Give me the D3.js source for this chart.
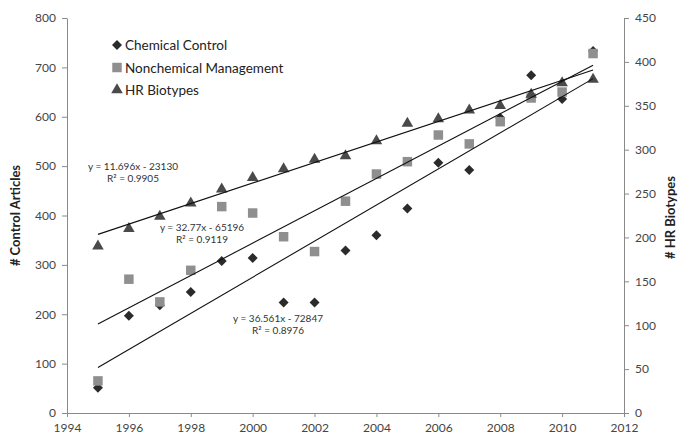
<!DOCTYPE html>
<html>
<head>
<meta charset="utf-8">
<script src="https://cdn.jsdelivr.net/npm/d3@7"></script>
<style>
  body { margin: 0; background: #fff; }
  svg { display: block; font-family: Lato, "Open Sans", sans-serif; }
</style>
</head>
<body>
<svg id="chart" width="683" height="435"></svg>
<script>
// Data
const years = [1995, 1996, 1997, 1998, 1999, 2000, 2001, 2002, 2003, 2004,
  2005, 2006, 2007, 2008, 2009, 2010, 2011];
const chemicalControl = [51, 197, 218, 245, 308, 314, 224, 224, 329, 360,
  414, 507, 492, 598, 684, 636, 733];
const nonchemicalMgmt = [65, 271, 225, 289, 418, 405, 357, 327, 429, 484,
  509, 563, 545, 590, 638, 650, 728];
const hrBiotypes = [190, 210, 224, 239, 255, 268, 278, 289, 293, 310,
  330, 335, 345, 350, 363, 376, 380];

const seriesNames = ['Chemical Control', 'Nonchemical Management', 'HR Biotypes'];

// Trend line equations as printed on the chart
const trendSlopes = [36.561, 32.77, 11.696];
const trendIntercepts = [-72847, -65196, -23130];
const trendLabels = ['y = 36.561x - 72847', 'y = 32.77x - 65196', 'y = 11.696x - 23130'];
const trendR2Labels = ['R\u00b2 = 0.8976', 'R\u00b2 = 0.9119', 'R\u00b2 = 0.9905'];

const xTicks = [1994, 1996, 1998, 2000, 2002, 2004, 2006, 2008, 2010, 2012];
const leftTicks = [0, 100, 200, 300, 400, 500, 600, 700, 800];
const rightTicks = [0, 50, 100, 150, 200, 250, 300, 350, 400, 450];

// Layout
const plot = {left: 67, right: 624, top: 18, bottom: 413};
const axisColor = '#8a8a8a';
const labelColor = '#454545';

let svg = d3.select('#chart');

let x = d3.scaleLinear().domain([1994, 2012]).range([plot.left, plot.right]);
let yLeft = d3.scaleLinear().domain([0, 800]).range([plot.bottom, plot.top]);
let yRight = d3.scaleLinear().domain([0, 450]).range([plot.bottom, plot.top]);

// Axes
const styleAxis = (g) => {
  g.selectAll('path.domain').style('stroke', axisColor);
  g.selectAll('.tick line').style('stroke', axisColor);
  g.selectAll('.tick text')
    .style('fill', labelColor)
    .style('font-size', '12px')
    .style('font-family', 'Lato, sans-serif');
};

svg.append('g')
  .attr('transform', `translate(0, ${plot.bottom})`)
  .call(d3.axisBottom(x).tickValues(xTicks).tickFormat(d3.format('d'))
    .tickSize(4).tickSizeOuter(0).tickPadding(6))
  .call(styleAxis);

svg.append('g')
  .attr('transform', `translate(${plot.left}, 0)`)
  .call(d3.axisLeft(yLeft).tickValues(leftTicks).tickSize(5).tickSizeOuter(0).tickPadding(6))
  .call(styleAxis);

svg.append('g')
  .attr('transform', `translate(${plot.right}, 0)`)
  .call(d3.axisRight(yRight).tickValues(rightTicks).tickSize(5).tickSizeOuter(0).tickPadding(6))
  .call(styleAxis);

// Axis titles
svg.append('text')
  .attr('transform', `translate(20, ${(plot.top + plot.bottom) / 2}) rotate(-90)`)
  .attr('text-anchor', 'middle')
  .style('font-size', '13px')
  .style('font-weight', 'bold')
  .style('fill', '#222')
  .text('# Control Articles');

svg.append('text')
  .attr('transform', `translate(675, ${(plot.top + plot.bottom) / 2 + 2}) rotate(-90)`)
  .attr('text-anchor', 'middle')
  .style('font-size', '13px')
  .style('font-weight', 'bold')
  .style('fill', '#222')
  .text('# HR Biotypes');

// Marker shapes
const diamond = d3.symbol(d3.symbolSquare, 50)();
const square = d3.symbol(d3.symbolSquare, 90)();
const triangle = d3.symbol(d3.symbolTriangle, 58)();

const series = [
  {values: chemicalControl, y: yLeft, path: diamond, rotate: 45, fill: '#2b2b2b'},
  {values: nonchemicalMgmt, y: yLeft, path: square, rotate: 0, fill: '#8f8f8f'},
  {values: hrBiotypes, y: yRight, path: triangle, rotate: 0, fill: '#4a4a4a'}
];

series.forEach(s => {
  svg.append('g')
    .selectAll('path')
    .data(years.map((yr, i) => ({yr: yr, v: s.values[i]})))
    .join('path')
    .attr('d', s.path)
    .attr('transform', d => `translate(${x(d.yr)}, ${s.y(d.v)}) rotate(${s.rotate})`)
    .style('fill', s.fill);
});

// Trend lines from the printed equations
const trendX = [years[0], years[years.length - 1]];
series.forEach((s, i) => {
  let line = d3.line()
    .x(d => x(d))
    .y(d => s.y(trendSlopes[i] * d + trendIntercepts[i]));
  svg.append('path')
    .attr('d', line(trendX))
    .style('fill', 'none')
    .style('stroke', '#111')
    .style('stroke-width', 1.1);
});

// Trend equation labels
const trendPos = [[278, 318], [202, 227], [133, 166]];
trendLabels.forEach((t, i) => {
  let g = svg.append('g')
    .attr('transform', `translate(${trendPos[i][0]}, ${trendPos[i][1]})`)
    .style('font-size', '10px')
    .style('fill', '#333')
    .attr('text-anchor', 'middle');
  g.append('text').attr('y', 4).text(t);
  g.append('text').attr('y', 16).text(trendR2Labels[i]);
});

// Legend
let legend = svg.append('g').attr('transform', 'translate(117, 45)');
series.forEach((s, i) => {
  let row = legend.append('g').attr('transform', `translate(0, ${i * 22.5})`);
  row.append('path')
    .attr('d', s.path)
    .attr('transform', `rotate(${s.rotate})`)
    .style('fill', s.fill);
  row.append('text')
    .attr('x', 8)
    .attr('y', 5)
    .style('font-size', '13.5px')
    .style('fill', '#222')
    .text(seriesNames[i]);
});
</script>
</body>
</html>
